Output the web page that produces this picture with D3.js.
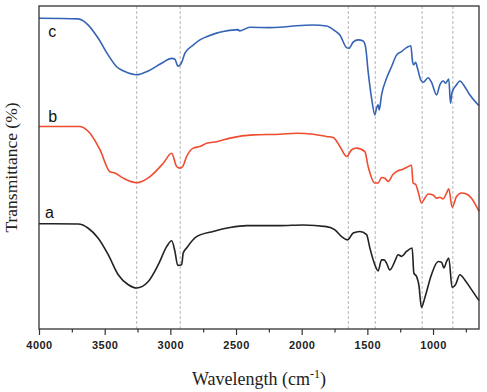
<!DOCTYPE html>
<html>
<head>
<meta charset="utf-8">
<script src="https://cdn.jsdelivr.net/npm/d3@7"></script>
<style>
  body { margin: 0; background: #fff; }
  .tick text { font-family: "Liberation Sans", Arial, sans-serif; }
</style>
</head>
<body>
<div id="chart"></div>
<script>
// FTIR spectra a, b, c (wavenumber in cm-1, transmittance offset units)

// wavenumbers of the marked bands
var bandLines = [3256, 2925, 1645, 1440, 1083, 849];

// x tick labels
var majorTicks = [4000, 3500, 3000, 2500, 2000, 1500, 1000];
var minorTicks = [3750, 3250, 2750, 2250, 1750, 1250, 750];

// series a (black)
var waveA = [4000, 3701, 3625, 3549, 3473, 3397, 3320, 3257, 3168, 3092, 3028, 2990, 2965, 2944, 2914, 2902, 2876, 2800, 2674, 2546, 2419, 2166, 1989, 1811, 1747, 1696, 1651, 1608, 1557, 1506, 1481, 1443, 1418, 1392, 1372, 1354, 1329, 1291, 1266, 1240, 1202, 1159, 1146, 1126, 1108, 1088, 1063, 1012, 961, 935, 918, 897, 880, 855, 829, 796, 758, 707, 650];
var valuesA = [32.6, 32.5, 31.2, 28.1, 23.0, 16.8, 13.7, 12.7, 14.7, 19.9, 25.5, 27.3, 24.0, 19.7, 19.9, 23.5, 25.1, 28.6, 30.2, 31.4, 32.0, 32.0, 32.2, 31.7, 30.7, 28.6, 27.6, 29.7, 30.2, 29.2, 25.1, 19.9, 18.0, 21.4, 21.4, 20.4, 18.3, 20.9, 23.0, 22.5, 24.0, 25.1, 17.3, 16.3, 13.7, 6.7, 9.6, 16.8, 20.9, 20.7, 18.9, 20.9, 22.0, 12.9, 13.7, 16.8, 15.2, 12.2, 8.8];

// series b (red)
var waveB = [4000, 3688, 3612, 3536, 3460, 3422, 3358, 3257, 3155, 3054, 2990, 2952, 2927, 2906, 2876, 2826, 2775, 2724, 2648, 2546, 2369, 2166, 2039, 1913, 1811, 1760, 1709, 1658, 1620, 1582, 1519, 1494, 1443, 1418, 1392, 1367, 1342, 1304, 1266, 1240, 1202, 1164, 1152, 1133, 1114, 1088, 1063, 1037, 1000, 973, 948, 923, 897, 880, 855, 821, 783, 745, 707, 650];
var valuesB = [62.7, 62.7, 60.6, 55.5, 48.7, 48.3, 46.7, 45.3, 47.2, 51.3, 54.4, 50.3, 49.8, 50.3, 53.4, 56.0, 56.5, 57.5, 58.0, 59.1, 60.1, 60.3, 60.6, 60.3, 59.6, 59.3, 56.5, 53.4, 55.5, 56.0, 54.9, 50.3, 45.2, 45.2, 46.9, 46.7, 45.7, 47.9, 49.0, 49.3, 50.0, 50.7, 45.2, 44.8, 42.6, 39.0, 40.5, 41.8, 41.5, 40.5, 40.8, 40.3, 42.1, 43.4, 37.7, 41.0, 42.1, 41.8, 40.5, 36.4];

// series c (blue)
var waveC = [4000, 3701, 3625, 3549, 3473, 3409, 3346, 3257, 3168, 3066, 2990, 2965, 2942, 2914, 2889, 2826, 2775, 2724, 2648, 2597, 2483, 2474, 2394, 2242, 2166, 2039, 1913, 1811, 1747, 1709, 1658, 1641, 1608, 1570, 1532, 1514, 1494, 1468, 1443, 1430, 1418, 1410, 1392, 1354, 1316, 1278, 1240, 1202, 1169, 1156, 1146, 1133, 1118, 1093, 1075, 1037, 1012, 973, 948, 923, 905, 880, 867, 855, 821, 796, 758, 720, 650];
var valuesC = [96.2, 96.0, 94.1, 90.0, 84.8, 81.2, 79.7, 78.7, 79.9, 82.3, 83.8, 83.5, 81.4, 82.5, 85.4, 87.9, 89.5, 90.5, 91.6, 92.1, 92.7, 92.3, 93.4, 93.3, 93.4, 93.9, 94.1, 93.8, 92.3, 91.0, 87.1, 86.9, 88.8, 89.5, 89.2, 87.4, 79.7, 71.5, 66.3, 68.4, 69.4, 67.8, 72.5, 77.6, 81.2, 84.8, 85.9, 87.1, 87.7, 82.8, 81.8, 82.6, 80.7, 77.1, 76.4, 77.8, 76.4, 72.5, 75.6, 76.8, 76.1, 77.4, 69.9, 73.3, 75.6, 76.8, 75.0, 72.5, 69.1];

var seriesNames = ["a", "b", "c"];
var seriesColors = ["#222222", "#ef4b2f", "#3563b5"];

// svg area
var svgWidth = 487;
var svgHeight = 392;

var margin = { top: 6, right: 8, bottom: 63, left: 39 };
var width = svgWidth - margin.left - margin.right;
var height = svgHeight - margin.top - margin.bottom;

var svg = d3.select("#chart").append("svg")
    .attr("width", svgWidth)
    .attr("height", svgHeight);

var chartGroup = svg.append("g")
    .attr("transform", `translate(${margin.left}, ${margin.top})`);

// scales
var xScale = d3.scaleLinear()
    .domain([4000, 650])
    .range([0, width]);

var yScale = d3.scaleLinear()
    .domain([0, 100])
    .range([height, 0]);

// dashed band markers
chartGroup.selectAll(".band")
    .data(bandLines)
    .enter()
    .append("line")
    .attr("x1", d => xScale(d))
    .attr("x2", d => xScale(d))
    .attr("y1", 0)
    .attr("y2", height)
    .attr("stroke", "#b5b5b5")
    .attr("stroke-width", 1)
    .attr("stroke-dasharray", "3,2");

// build series table
var series = [
    { name: "a", waves: waveA, values: valuesA },
    { name: "b", waves: waveB, values: valuesB },
    { name: "c", waves: waveC, values: valuesC }
];

var line = d3.line()
    .x(d => xScale(d[0]))
    .y(d => yScale(d[1]))
    .curve(d3.curveMonotoneX);

// letter offsets from the start of each line (c sits under its line)
var labelDy = [-6, -4.5, 18.5];

series.forEach(function (s, i) {
    var points = s.waves.map((w, j) => [w, s.values[j]]);
    chartGroup.append("path")
        .datum(points)
        .attr("fill", "none")
        .attr("stroke", seriesColors[i])
        .attr("stroke-width", 1.6)
        .attr("stroke-linejoin", "round")
        .attr("d", line);

    chartGroup.append("text")
        .attr("x", xScale(i === 0 ? 3955 : 3930))
        .attr("y", yScale(s.values[0]) + labelDy[i])
        .attr("font-family", "Liberation Sans, Arial, sans-serif")
        .attr("font-size", 16)
        .attr("fill", "#111")
        .text(seriesNames[i]);
});

// x axis: major and minor ticks
var xAxis = d3.axisBottom(xScale)
    .tickValues(majorTicks)
    .tickSize(6)
    .tickPadding(6.5)
    .tickFormat(d3.format("d"));

var xAxisMinor = d3.axisBottom(xScale)
    .tickValues(minorTicks)
    .tickSize(3.5)
    .tickFormat("");

var axisG = chartGroup.append("g")
    .attr("transform", `translate(0, ${height})`)
    .call(xAxis);
axisG.select(".domain").remove();
axisG.selectAll(".tick line").attr("stroke", "#333").attr("stroke-width", 1.2);
axisG.selectAll(".tick text")
    .attr("font-size", 11)
    .attr("font-weight", "bold")
    .attr("letter-spacing", "0.5px")
    .attr("fill", "#222");

var minorG = chartGroup.append("g")
    .attr("transform", `translate(0, ${height})`)
    .call(xAxisMinor);
minorG.select(".domain").remove();
minorG.selectAll(".tick line").attr("stroke", "#333").attr("stroke-width", 1.2);

// frame
chartGroup.append("rect")
    .attr("x", 0)
    .attr("y", 0)
    .attr("width", width)
    .attr("height", height)
    .attr("fill", "none")
    .attr("stroke", "#333")
    .attr("stroke-width", 1.3);

// x axis label
var xLabel = chartGroup.append("text")
    .attr("x", width / 2)
    .attr("y", height + 56)
    .attr("text-anchor", "middle")
    .attr("font-family", "Liberation Serif, Times New Roman, serif")
    .attr("font-size", 18)
    .attr("fill", "#222");
xLabel.append("tspan").text("Wavelength (cm");
xLabel.append("tspan").attr("font-size", 12).attr("dy", -7).text("-1");
xLabel.append("tspan").attr("dy", 7).text(")");

// y axis label
svg.append("text")
    .attr("transform", `translate(17, ${margin.top + height / 2}) rotate(-90)`)
    .attr("text-anchor", "middle")
    .attr("font-family", "Liberation Serif, Times New Roman, serif")
    .attr("font-size", 17.5)
    .attr("fill", "#222")
    .text("Transmittance (%)");
</script>
</body>
</html>
